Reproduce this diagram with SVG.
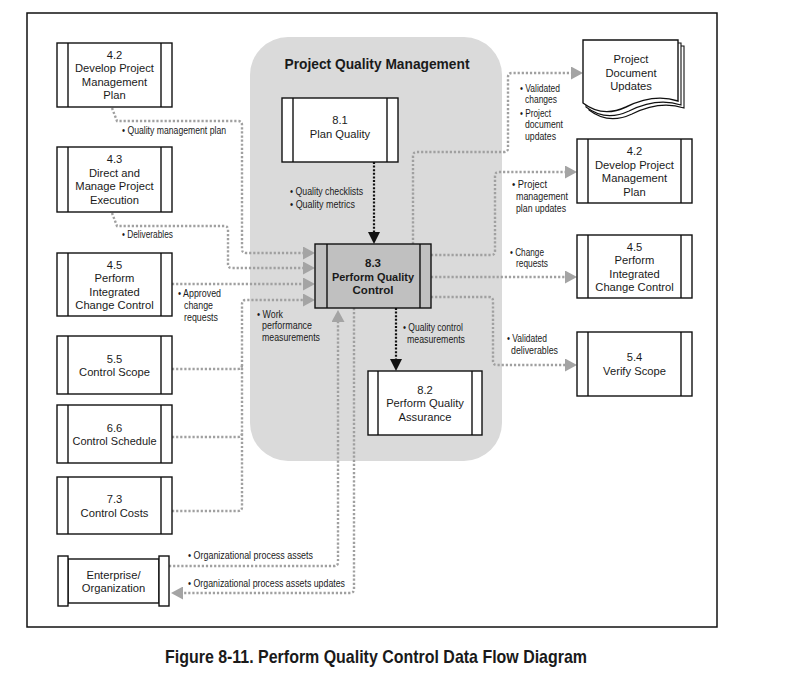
<svg xmlns="http://www.w3.org/2000/svg" width="810" height="674" viewBox="0 0 810 674">
<style>
.box{fill:#fff;stroke:#111;stroke-width:1.4}
.sl{stroke:#111;stroke-width:1.4}
.t{font-family:"Liberation Sans",Arial,sans-serif;font-size:11.2px;text-anchor:middle;fill:#1a1a1a}
.tb{font-family:"Liberation Sans",Arial,sans-serif;font-size:11.5px;font-weight:bold;text-anchor:middle;fill:#1a1a1a}
.lb{font-family:"Liberation Sans",Arial,sans-serif;font-size:10.5px;fill:#1a1a1a}
.g{fill:none;stroke:#a0a0a0;stroke-width:2.4;stroke-dasharray:2.2 1.9}
.k{fill:none;stroke:#111;stroke-width:2.2;stroke-dasharray:2 1.6}
</style>
<defs>
<marker id="ag" viewBox="0 0 12 13" refX="0" refY="6.5" markerWidth="12" markerHeight="13" markerUnits="userSpaceOnUse" orient="auto"><path d="M0,0 L12,6.5 L0,13 Z" fill="#a4a4a4"/></marker>
<marker id="ak" viewBox="0 0 12 12" refX="0" refY="6" markerWidth="12" markerHeight="12" markerUnits="userSpaceOnUse" orient="auto"><path d="M0,0 L12,6 L0,12 Z" fill="#111"/></marker>
</defs>
<rect width="810" height="674" fill="#fff"/>
<rect x="27" y="13" width="690" height="614" fill="none" stroke="#111" stroke-width="1.5"/>

<g id="container">
<rect x="250" y="37" width="252" height="424" rx="38" ry="38" fill="#dadada"/>
<text x="377" y="69" font-family="Liberation Sans,Arial,sans-serif" font-size="14" font-weight="bold" text-anchor="middle" textLength="185" lengthAdjust="spacingAndGlyphs" fill="#1a1a1a">Project Quality Management</text>
</g>

<g id="connectors">
<path class="g" d="M112,108 L117,121 L238,121 Q242,121 242,125 L242,249 Q242,253 246,253 L303,253" marker-end="url(#ag)"/>
<path class="g" d="M112,213 L117,226 L224,226 Q228,226 228,230 L228,264 Q228,268 232,268 L303,268" marker-end="url(#ag)"/>
<path class="g" d="M172,284 L303,284" marker-end="url(#ag)"/>
<path class="g" d="M172,369 L238,369 Q242,369 242,365"/>
<path class="g" d="M172,437 L238,437 Q242,437 242,433"/>
<path class="g" d="M172,511 L238,511 Q242,511 242,507 L242,304 Q242,300 246,300 L303,300" marker-end="url(#ag)"/>
<path class="g" d="M169,566 L334,566 Q338,566 338,562 L338,322" marker-end="url(#ag)"/>
<path class="g" d="M354,308 L354,589 Q354,593 350,593 L183,593" marker-end="url(#ag)"/>
<path class="k" d="M374,162 L374,232" marker-end="url(#ak)"/>
<path class="k" d="M396,308 L396,359" marker-end="url(#ak)"/>
<path class="g" d="M413,244 L413,156 Q413,152 417,152 L504,152 Q508,152 508,148 L508,77 Q508,73 512,73 L571,73" marker-end="url(#ag)"/>
<path class="g" d="M431,255 L491,255 Q495,255 495,251 L495,176 Q495,172 499,172 L565,172" marker-end="url(#ag)"/>
<path class="g" d="M431,277 L565,277" marker-end="url(#ag)"/>
<path class="g" d="M431,297 L489,297 Q493,297 493,301 L493,361 Q493,365 497,365 L565,365" marker-end="url(#ag)"/>
</g>

<g id="labels">
<text class="lb" x="122" y="134" textLength="104" lengthAdjust="spacingAndGlyphs">• Quality management plan</text>
<text class="lb" x="122" y="238" textLength="51" lengthAdjust="spacingAndGlyphs">• Deliverables</text>
<text class="lb" x="178" y="297" textLength="43" lengthAdjust="spacingAndGlyphs">• Approved</text>
<text class="lb" x="184" y="309" textLength="29" lengthAdjust="spacingAndGlyphs">change</text>
<text class="lb" x="184" y="321" textLength="34" lengthAdjust="spacingAndGlyphs">requests</text>
<text class="lb" x="257" y="318" textLength="26" lengthAdjust="spacingAndGlyphs">• Work</text>
<text class="lb" x="262" y="329" textLength="50" lengthAdjust="spacingAndGlyphs">performance</text>
<text class="lb" x="262" y="341" textLength="58" lengthAdjust="spacingAndGlyphs">measurements</text>
<text class="lb" x="290" y="195" textLength="73" lengthAdjust="spacingAndGlyphs">• Quality checklists</text>
<text class="lb" x="290" y="208" textLength="65" lengthAdjust="spacingAndGlyphs">• Quality metrics</text>
<text class="lb" x="188" y="559" textLength="125" lengthAdjust="spacingAndGlyphs">• Organizational process assets</text>
<text class="lb" x="188" y="587" textLength="157" lengthAdjust="spacingAndGlyphs">• Organizational process assets updates</text>
<text class="lb" x="520" y="92" textLength="40" lengthAdjust="spacingAndGlyphs">• Validated</text>
<text class="lb" x="525" y="103" textLength="32" lengthAdjust="spacingAndGlyphs">changes</text>
<text class="lb" x="520" y="117" textLength="31" lengthAdjust="spacingAndGlyphs">• Project</text>
<text class="lb" x="525" y="128" textLength="38" lengthAdjust="spacingAndGlyphs">document</text>
<text class="lb" x="525" y="140" textLength="31" lengthAdjust="spacingAndGlyphs">updates</text>
<text class="lb" x="512" y="188" textLength="35" lengthAdjust="spacingAndGlyphs">• Project</text>
<text class="lb" x="516" y="200" textLength="52" lengthAdjust="spacingAndGlyphs">management</text>
<text class="lb" x="516" y="212" textLength="50" lengthAdjust="spacingAndGlyphs">plan updates</text>
<text class="lb" x="510" y="256" textLength="34" lengthAdjust="spacingAndGlyphs">• Change</text>
<text class="lb" x="516" y="267" textLength="32" lengthAdjust="spacingAndGlyphs">requests</text>
<text class="lb" x="507" y="342" textLength="40" lengthAdjust="spacingAndGlyphs">• Validated</text>
<text class="lb" x="511" y="354" textLength="47" lengthAdjust="spacingAndGlyphs">deliverables</text>
<text class="lb" x="403" y="331" textLength="60" lengthAdjust="spacingAndGlyphs">• Quality control</text>
<text class="lb" x="407" y="343" textLength="58" lengthAdjust="spacingAndGlyphs">measurements</text>
</g>

<g id="n42L">
<rect class="box" x="57" y="43" width="115" height="64"/>
<line class="sl" x1="68" y1="43" x2="68" y2="107"/><line class="sl" x1="161" y1="43" x2="161" y2="107"/>
<text class="t" x="114.5" y="58.5">4.2</text><text class="t" x="114.5" y="72">Develop Project</text><text class="t" x="114.5" y="85.5">Management</text><text class="t" x="114.5" y="99">Plan</text>
</g>
<g id="n43">
<rect class="box" x="57" y="147" width="115" height="65"/>
<line class="sl" x1="68" y1="147" x2="68" y2="212"/><line class="sl" x1="161" y1="147" x2="161" y2="212"/>
<text class="t" x="114.5" y="163">4.3</text><text class="t" x="114.5" y="176.5">Direct and</text><text class="t" x="114.5" y="190">Manage Project</text><text class="t" x="114.5" y="203.5">Execution</text>
</g>
<g id="n45L">
<rect class="box" x="57" y="253" width="115" height="63"/>
<line class="sl" x1="68" y1="253" x2="68" y2="316"/><line class="sl" x1="161" y1="253" x2="161" y2="316"/>
<text class="t" x="114.5" y="268.5">4.5</text><text class="t" x="114.5" y="282">Perform</text><text class="t" x="114.5" y="295.5">Integrated</text><text class="t" x="114.5" y="309">Change Control</text>
</g>
<g id="n55">
<rect class="box" x="57" y="336" width="115" height="58"/>
<line class="sl" x1="68" y1="336" x2="68" y2="394"/><line class="sl" x1="161" y1="336" x2="161" y2="394"/>
<text class="t" x="114.5" y="362.5">5.5</text><text class="t" x="114.5" y="376">Control Scope</text>
</g>
<g id="n66">
<rect class="box" x="57" y="405" width="115" height="58"/>
<line class="sl" x1="68" y1="405" x2="68" y2="463"/><line class="sl" x1="161" y1="405" x2="161" y2="463"/>
<text class="t" x="114.5" y="431.5">6.6</text><text class="t" x="114.5" y="445" textLength="84" lengthAdjust="spacingAndGlyphs">Control Schedule</text>
</g>
<g id="n73">
<rect class="box" x="57" y="477" width="115" height="57"/>
<line class="sl" x1="68" y1="477" x2="68" y2="534"/><line class="sl" x1="161" y1="477" x2="161" y2="534"/>
<text class="t" x="114.5" y="503">7.3</text><text class="t" x="114.5" y="516.5">Control Costs</text>
</g>
<g id="enterprise">
<rect class="box" x="68" y="559" width="91" height="44"/>
<rect class="box" x="58" y="556" width="10" height="50"/>
<rect class="box" x="159" y="556" width="10" height="50"/>
<text class="t" x="113.5" y="578.5">Enterprise/</text><text class="t" x="113.5" y="592">Organization</text>
</g>
<g id="n81">
<rect class="box" x="282" y="98" width="116" height="64"/>
<line class="sl" x1="293" y1="98" x2="293" y2="162"/><line class="sl" x1="387" y1="98" x2="387" y2="162"/>
<text class="t" x="340" y="124">8.1</text><text class="t" x="340" y="137.5">Plan Quality</text>
</g>
<g id="n83">
<rect x="315" y="244" width="116" height="64" fill="#c0c0c0" stroke="#111" stroke-width="1.4"/>
<line class="sl" x1="327" y1="244" x2="327" y2="308"/><line class="sl" x1="420" y1="244" x2="420" y2="308"/>
<text class="tb" x="373" y="267">8.3</text><text class="tb" x="373" y="280.5" textLength="82" lengthAdjust="spacingAndGlyphs">Perform Quality</text><text class="tb" x="373" y="294">Control</text>
</g>
<g id="n82">
<rect class="box" x="368" y="371" width="114" height="64"/>
<line class="sl" x1="378" y1="371" x2="378" y2="435"/><line class="sl" x1="472" y1="371" x2="472" y2="435"/>
<text class="t" x="425" y="393.5">8.2</text><text class="t" x="425" y="407">Perform Quality</text><text class="t" x="425" y="420.5">Assurance</text>
</g>
<g id="doc">
<path d="M589,46 L684,46 L684,108 C666,102 648,106 632,114 C617,121 602,120 589,110 Z" fill="#fff" stroke="#111" stroke-width="1.1"/>
<path d="M586,43 L681,43 L681,105 C663,99 645,103 629,111 C614,118 599,117 586,107 Z" fill="#fff" stroke="#111" stroke-width="1.1"/>
<path d="M583,40 L678,40 L678,101 C660,95 642,99 626,107 C611,114 596,113 583,103 Z" fill="#fff" stroke="#111" stroke-width="1.4"/>
<text class="t" x="631" y="63">Project</text><text class="t" x="631" y="77">Document</text><text class="t" x="631" y="90">Updates</text>
</g>
<g id="n42R">
<rect class="box" x="577" y="139" width="115" height="64"/>
<line class="sl" x1="588" y1="139" x2="588" y2="203"/><line class="sl" x1="681" y1="139" x2="681" y2="203"/>
<text class="t" x="634.5" y="155">4.2</text><text class="t" x="634.5" y="168.5">Develop Project</text><text class="t" x="634.5" y="182">Management</text><text class="t" x="634.5" y="195.5">Plan</text>
</g>
<g id="n45R">
<rect class="box" x="577" y="235" width="115" height="63"/>
<line class="sl" x1="588" y1="235" x2="588" y2="298"/><line class="sl" x1="681" y1="235" x2="681" y2="298"/>
<text class="t" x="634.5" y="250.5">4.5</text><text class="t" x="634.5" y="264">Perform</text><text class="t" x="634.5" y="277.5">Integrated</text><text class="t" x="634.5" y="291">Change Control</text>
</g>
<g id="n54">
<rect class="box" x="577" y="332" width="115" height="64"/>
<line class="sl" x1="588" y1="332" x2="588" y2="396"/><line class="sl" x1="681" y1="332" x2="681" y2="396"/>
<text class="t" x="634.5" y="361">5.4</text><text class="t" x="634.5" y="374.5">Verify Scope</text>
</g>

<text x="165" y="663" font-family="Liberation Sans,Arial,sans-serif" font-size="19" font-weight="bold" textLength="422" lengthAdjust="spacingAndGlyphs" fill="#1a1a1a">Figure 8-11. Perform Quality Control Data Flow Diagram</text>
</svg>
